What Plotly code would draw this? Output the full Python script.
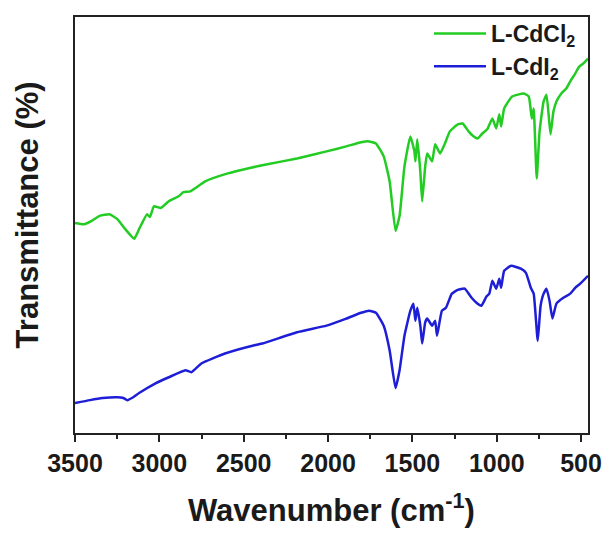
import plotly.graph_objects as go

# FTIR spectra of the two L-cadmium halide complexes (transmittance, arbitrary offset units)
wn_cdcl2 = [3500, 3447, 3401, 3354, 3295, 3249, 3202, 3149, 3120, 3073, 3056, 3032, 2991, 2944,
            2886, 2857, 2816, 2728, 2594, 2477, 2360, 2184, 2009, 1892, 1804, 1757, 1716, 1670,
            1635, 1600, 1576, 1547, 1512, 1488, 1482, 1471, 1453, 1442, 1424, 1412, 1383, 1365,
            1336, 1307, 1278, 1231, 1202, 1167, 1143, 1114, 1085, 1056, 1026, 1003, 985, 974,
            956, 909, 839, 810, 792, 781, 763, 746, 722, 705, 681, 664, 646, 617, 588, 559,
            535, 512, 488, 459]
t_cdcl2 = [50.5, 50.2, 51.0, 52.2, 52.6, 51.4, 49.0, 46.7, 49.0, 52.6, 51.9, 54.5, 54.1, 55.7,
           56.9, 57.9, 58.1, 60.5, 62.4, 63.6, 64.6, 66.0, 67.7, 68.9, 69.9, 70.1, 69.6, 66.5,
           60.5, 48.6, 52.2, 64.1, 71.3, 67.7, 65.3, 70.6, 62.9, 55.7, 64.1, 67.2, 65.3, 69.4,
           67.2, 69.6, 72.5, 74.2, 74.4, 72.5, 71.5, 70.8, 72.0, 73.0, 75.6, 73.2, 76.6, 73.7,
           78.0, 80.9, 81.6, 80.9, 75.6, 78.0, 61.2, 72.5, 79.7, 81.3, 71.8, 77.3, 79.7, 81.6,
           82.8, 84.9, 86.4, 88.0, 88.8, 90.0]

wn_cdi2 = [3500, 3412, 3336, 3249, 3213, 3190, 3155, 3120, 3020, 2944, 2845, 2810, 2751, 2611,
           2436, 2389, 2184, 2009, 1892, 1804, 1757, 1716, 1670, 1635, 1600, 1576, 1547, 1512,
           1494, 1482, 1471, 1453, 1442, 1424, 1412, 1383, 1365, 1354, 1325, 1301, 1266, 1231,
           1190, 1149, 1120, 1091, 1061, 1044, 1026, 1003, 985, 974, 956, 915, 857, 827, 798,
           781, 757, 740, 722, 705, 687, 670, 646, 605, 564, 535, 505, 459]
t_cdi2 = [7.2, 7.9, 8.4, 8.6, 8.4, 7.9, 8.6, 9.6, 12.0, 13.4, 15.1, 14.6, 16.7, 19.1,
          21.1, 21.5, 24.2, 25.8, 27.5, 28.9, 29.4, 28.9, 25.8, 19.9, 10.8, 15.1, 23.4, 29.4,
          31.1, 27.0, 30.1, 25.8, 21.5, 26.6, 27.5, 25.8, 27.0, 23.4, 29.4, 30.1, 33.5, 34.4,
          34.7, 32.5, 31.3, 30.6, 32.8, 33.5, 36.6, 34.7, 37.1, 34.9, 39.0, 40.2, 39.5, 38.5, 34.9,
          33.5, 22.2, 30.6, 33.5, 34.7, 31.8, 27.5, 31.1, 32.5, 33.5, 34.9, 35.9, 37.8]

x_ticks = [3500, 3000, 2500, 2000, 1500, 1000, 500]
x_range = [3500, 459]

FONT = "Liberation Sans, Arial, sans-serif"
GREEN = "rgb(34,204,34)"
BLUE = "rgb(30,30,215)"

fig = go.Figure()
fig.add_trace(go.Scatter(x=wn_cdcl2, y=t_cdcl2, mode="lines", name="L-CdCl<sub>2</sub>",
                         line=dict(color=GREEN, width=2.5, shape="spline", smoothing=0.4)))
fig.add_trace(go.Scatter(x=wn_cdi2, y=t_cdi2, mode="lines", name="L-CdI<sub>2</sub>",
                         line=dict(color=BLUE, width=2.5, shape="spline", smoothing=0.4)))

axis_line = dict(showline=True, linecolor="#222", linewidth=2, mirror=True,
                 showgrid=False, zeroline=False)

fig.update_xaxes(range=x_range, tickvals=x_ticks, ticks="outside", ticklen=7, tickwidth=2,
                 tickcolor="#222",
                 tickfont=dict(family=FONT, size=25, color="#1a1a1a", weight="bold"),
                 minor=dict(dtick=250, tick0=500, ticks="outside", ticklen=4, tickwidth=2,
                            tickcolor="#222"),
                 **axis_line)
fig.update_yaxes(range=[0, 100], showticklabels=False, ticks="", **axis_line)

fig.add_annotation(text="Wavenumber (cm<sup>-1</sup>)", xref="paper", yref="paper",
                   x=0.5, y=-0.18, showarrow=False, xanchor="center", yanchor="middle",
                   font=dict(family=FONT, size=31, color="#1a1a1a", weight="bold"))
fig.add_annotation(text="Transmittance (%)", xref="paper", yref="paper",
                   x=-0.092, y=0.525, showarrow=False, textangle=-90,
                   xanchor="center", yanchor="middle",
                   font=dict(family=FONT, size=31, color="#1a1a1a", weight="bold"))

fig.update_layout(
    width=614, height=533,
    margin=dict(l=75, r=19, t=15, b=100),
    plot_bgcolor="white", paper_bgcolor="white",
    showlegend=True,
    legend=dict(x=0.69, y=1.012, xanchor="left", yanchor="top",
                bgcolor="rgba(0,0,0,0)", itemwidth=52,
                font=dict(family=FONT, size=23, color="#1a1a1a", weight="bold"),
                tracegroupgap=0),
)

fig.write_html("out.html")
